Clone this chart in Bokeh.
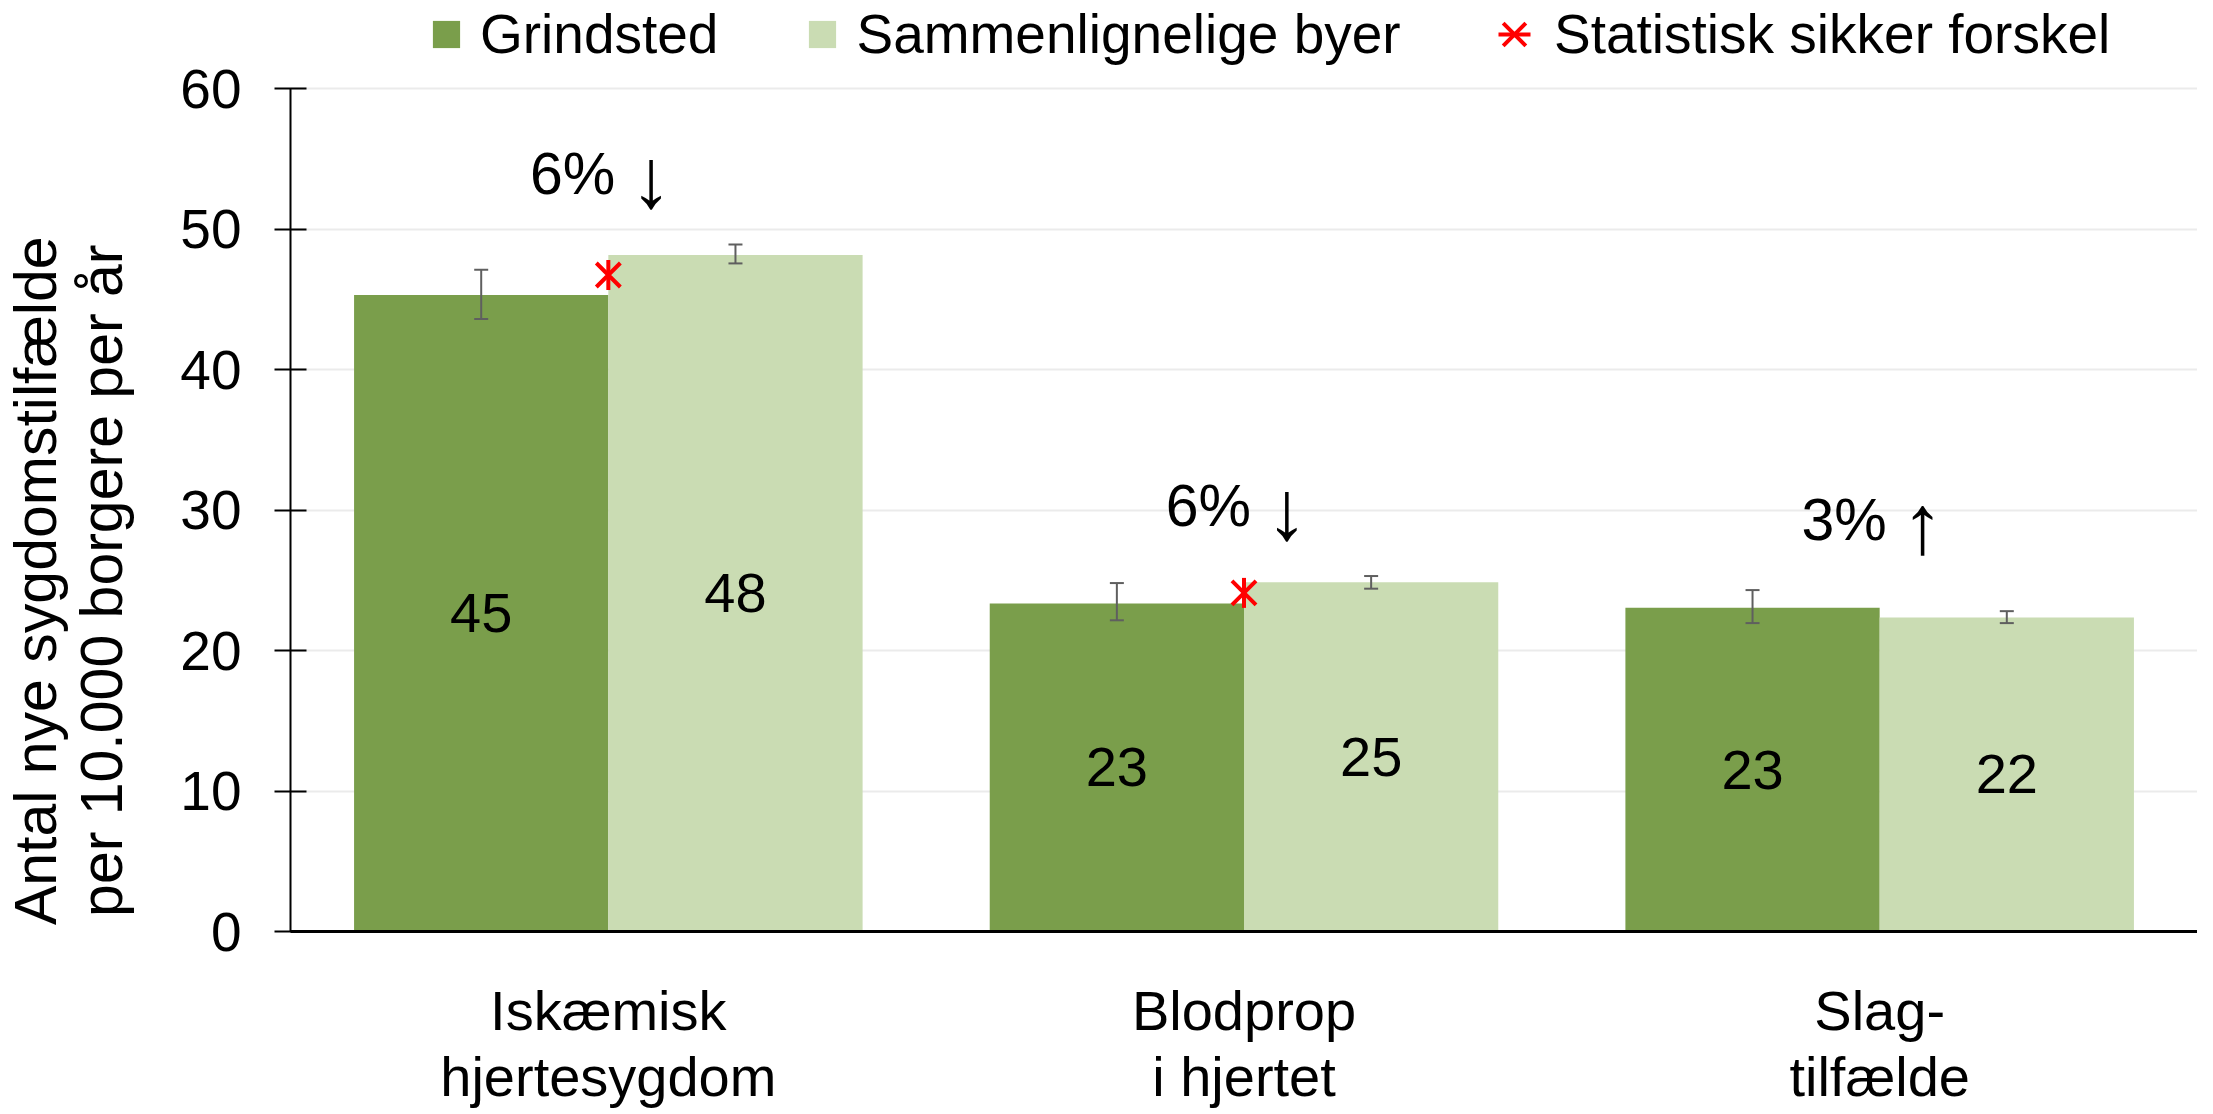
from bokeh.plotting import figure
from bokeh.models import (ColumnDataSource, FactorRange, Range1d, FixedTicker,
                          Whisker, TeeHead, Legend, LegendItem)
from bokeh.transform import dodge
from bokeh.core.properties import value
from bokeh.embed import file_html
from bokeh.resources import INLINE

# ---------------- data ----------------
categories = ["Iskæmisk\nhjertesygdom", "Blodprop\ni hjertet", "Slag-\ntilfælde"]
series_names = ["Grindsted", "Sammenlignelige byer"]
grindsted = [45.3, 23.35, 23.05]
grindsted_lower = [43.6, 22.15, 21.95]
grindsted_upper = [47.1, 24.8, 24.3]
sammen = [48.15, 24.85, 22.35]
sammen_lower = [47.55, 24.4, 21.95]
sammen_upper = [48.9, 25.3, 22.8]
significant = [True, True, False]
change_pct = ["6%", "6%", "3%"]
change_dir = ["↓", "↓", "↑"]
y_ticks = [0, 10, 20, 30, 40, 50, 60]
sig_label = "Statistisk sikker forskel"
y_title_lines = ["Antal nye sygdomstilfælde", "per 10.000 borgere per år"]

FONT = "Liberation Sans"
DARK = "#7A9E4B"
LIGHT = "#CADCB3"
ERR = "#5F5F5F"

# layout (pixels)
W, H = 2197, 1112
FRAME_BOTTOM = 931          # frame bottom, figure px
TOP_GAP = 88                # space between canvas top and the 60 gridline
y_max_axis = y_ticks[-1]
y_top = y_max_axis * FRAME_BOTTOM / (FRAME_BOTTOM - TOP_GAP)

src = ColumnDataSource(dict(
    cat=categories,
    g=grindsted, s=sammen,
    g_lo=grindsted_lower, g_hi=grindsted_upper,
    s_lo=sammen_lower, s_hi=sammen_upper,
    g_mid=[v / 2 for v in grindsted], s_mid=[v / 2 for v in sammen],
    g_lab=[str(int(round(v))) for v in grindsted],
    s_lab=[str(int(round(v))) for v in sammen],
    pct=change_pct, arrow=change_dir,
    top=[max(a, b) for a, b in zip(grindsted_upper, sammen_upper)],
))

sig_src = ColumnDataSource(dict(
    cat=[c for c, f in zip(categories, significant) if f],
    y=[(a + b) / 2 for a, b, f in zip(grindsted, sammen, significant) if f],
))

p = figure(x_range=FactorRange(factors=categories, range_padding=0),
           y_range=Range1d(0, y_top),
           width=W, height=H,
           output_backend="svg", toolbar_location=None,
           min_border_left=282, min_border_right=0,
           min_border_top=0, min_border_bottom=H - FRAME_BOTTOM)
p.outline_line_color = None
p.background_fill_color = "white"
p.border_fill_color = "white"

# grid
p.xgrid.visible = False
p.ygrid.ticker = FixedTicker(ticks=y_ticks)
p.ygrid.grid_line_color = "#EBEBEB"
p.ygrid.grid_line_width = 2

# y axis
pad = "\u00a0" * 14
p.yaxis.ticker = FixedTicker(ticks=y_ticks)
p.yaxis.bounds = (0, y_max_axis)
p.yaxis.axis_line_color = "black"
p.yaxis.axis_line_width = 2
p.yaxis.major_tick_in = 16
p.yaxis.major_tick_out = 16
p.yaxis.major_tick_line_color = "black"
p.yaxis.major_tick_line_width = 2
p.yaxis.minor_tick_line_color = None
p.yaxis.major_label_standoff = 33
p.yaxis.major_label_text_font = FONT
p.yaxis.major_label_text_font_size = "55px"
p.yaxis.major_label_text_color = "black"
p.yaxis.axis_label = "\n".join(l + pad for l in y_title_lines)
p.yaxis.axis_label_text_font = FONT
p.yaxis.axis_label_text_font_size = "59px"
p.yaxis.axis_label_text_font_style = "normal"
p.yaxis.axis_label_text_color = "black"
p.yaxis.axis_label_text_line_height = 1.0
p.yaxis.axis_label_standoff = 42

# x axis
p.xaxis.axis_line_color = "black"
p.xaxis.axis_line_width = 3
p.xaxis.major_tick_line_color = None
p.xaxis.minor_tick_line_color = None
p.xaxis.major_label_standoff = 41
p.xaxis.major_label_text_font = FONT
p.xaxis.major_label_text_font_size = "56px"
p.xaxis.major_label_text_color = "black"
p.xaxis.major_label_text_line_height = 1.06

# bars
p.vbar(x=dodge("cat", -0.2, range=p.x_range), top="g", width=0.4, source=src,
       fill_color=DARK, line_color=None)
p.vbar(x=dodge("cat", 0.2, range=p.x_range), top="s", width=0.4, source=src,
       fill_color=LIGHT, line_color=None)

# legend proxies (hidden markers, used only for the legend swatches)
lg = p.scatter(x=dodge("cat", -0.2, range=p.x_range), y="g", source=src, marker="square",
               size=27, fill_color=DARK, line_color=None, visible=False)
ll = p.scatter(x=dodge("cat", 0.2, range=p.x_range), y="s", source=src, marker="square",
               size=27, fill_color=LIGHT, line_color=None, visible=False)

# error bars
for off, lo, hi in [(-0.2, "g_lo", "g_hi"), (0.2, "s_lo", "s_hi")]:
    w = Whisker(base=dodge("cat", off, range=p.x_range), lower=lo, upper=hi, source=src,
                line_color=ERR, line_width=2, level="overlay",
                upper_head=TeeHead(size=14, line_color=ERR, line_width=2),
                lower_head=TeeHead(size=14, line_color=ERR, line_width=2))
    p.add_layout(w)

# value labels
p.text(x=dodge("cat", -0.2, range=p.x_range), y="g_mid", text="g_lab", source=src,
       text_align="center", text_baseline="middle", text_color="black",
       text_font=value(FONT), text_font_size="56px")
p.text(x=dodge("cat", 0.2, range=p.x_range), y="s_mid", text="s_lab", source=src,
       text_align="center", text_baseline="middle", text_color="black",
       text_font=value(FONT), text_font_size="56px")

# change annotations
p.text(x="cat", y="top", text="pct", source=src, x_offset=7, y_offset=-70,
       text_align="right", text_baseline="middle", text_color="black",
       text_font=value(FONT), text_font_size="59px")
p.text(x="cat", y="top", text="arrow", source=src, x_offset=43, y_offset=-66,
       text_align="center", text_baseline="middle", text_color="black",
       text_font=value(FONT), text_font_size="84px")

# significance stars
sx = p.scatter(x="cat", y="y", source=sig_src, marker="x", size=34,
               line_color="red", line_width=4)
sv = p.scatter(x="cat", y="y", source=sig_src, marker="dash", size=30, angle=1.5708,
               line_color="red", line_width=4)

common = dict(orientation="horizontal", padding=0, margin=0,
              border_line_alpha=0, background_fill_alpha=0,
              label_text_font=FONT, label_text_font_size="55px",
              label_text_color="black")
legend1 = Legend(items=[
    LegendItem(label=series_names[0], renderers=[lg]),
    LegendItem(label=series_names[1], renderers=[ll]),
], location=(122, FRAME_BOTTOM - 68),
    glyph_width=68, glyph_height=68, label_standoff=0, spacing=70, **common)
legend2 = Legend(items=[
    LegendItem(label=sig_label, renderers=[sx, sv]),
], location=(1184, FRAME_BOTTOM - 74),
    glyph_width=80, glyph_height=80, label_standoff=-10, **common)
p.add_layout(legend1, "center")
p.add_layout(legend2, "center")

open("out.html", "w").write(file_html(p, INLINE))
